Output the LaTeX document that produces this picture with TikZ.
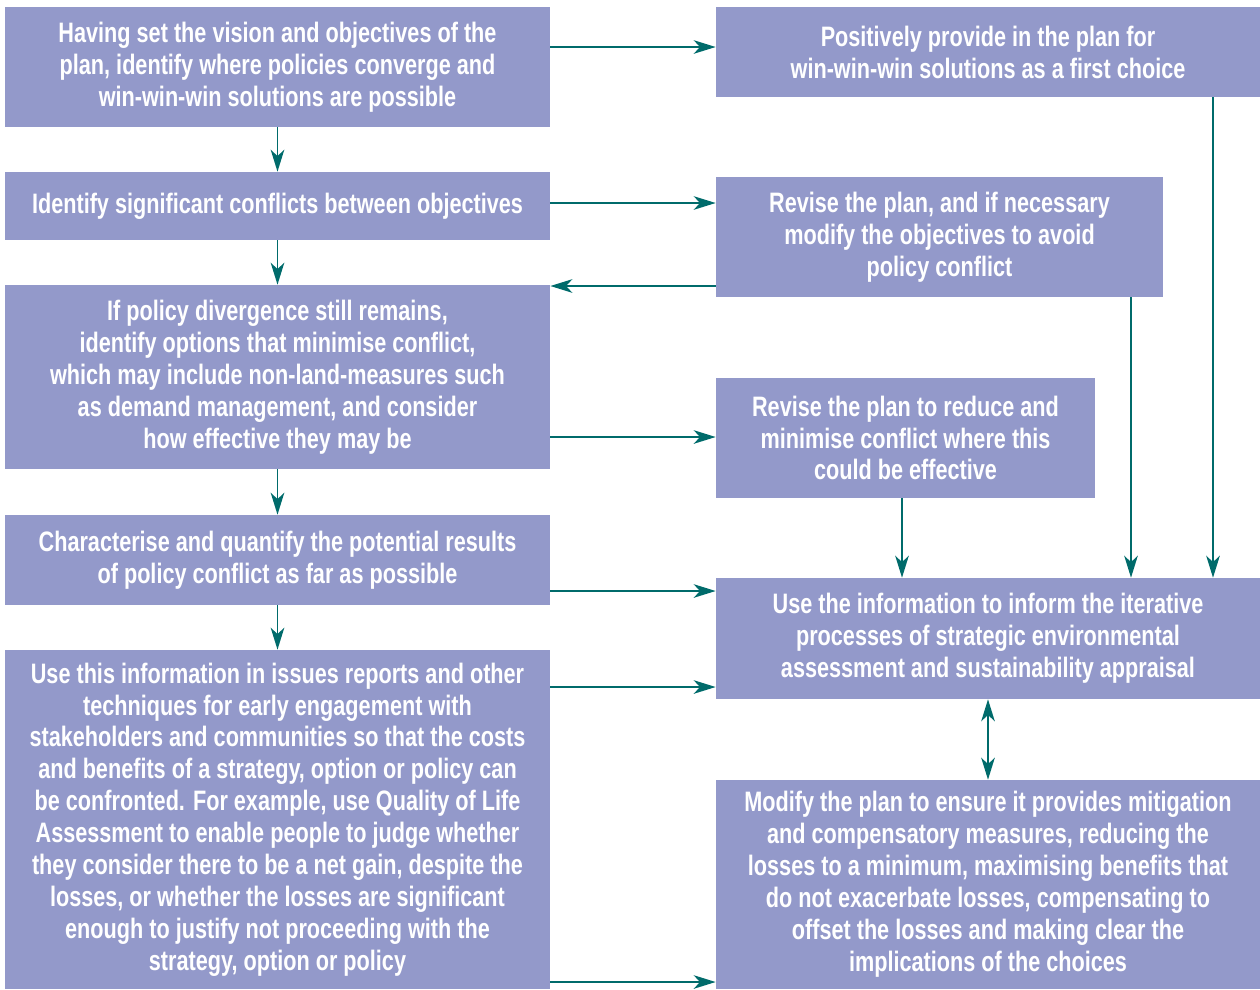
\documentclass[tikz,border=0pt]{standalone}
\usepackage{fontspec}
\setmainfont{Liberation Sans}[FakeStretch=0.77]
\usepackage{tikz}
\usetikzlibrary{arrows.meta}
\definecolor{lavande}{RGB}{147, 153, 202}
\definecolor{sarcelle}{RGB}{0, 107, 107}

\tikzset{
  etape/.style={rectangle, fill=lavande, text=white, align=center, inner sep=0pt,
    font=\bfseries\fontsize{20pt}{22.7pt}\selectfont},
  flux/.style={draw=sarcelle, line width=1.4pt,
    -{Stealth[length=5.5mm, width=3.4mm, inset=1.6mm]}},
  fluxdouble/.style={flux, {Stealth[length=5.5mm, width=3.4mm, inset=1.6mm]}-{Stealth[length=5.5mm, width=3.4mm, inset=1.6mm]}}
}

\begin{document}
\begin{tikzpicture}[x=0.025cm, y=-0.025cm]
  \useasboundingbox (0,0) rectangle (1260,989);

  % colonne de gauche
  \node[etape, minimum width=13.625cm, minimum height=3cm] (L1) at (277.5,67)
    {Having set the vision and objectives of the\\
     plan, identify where policies converge and\\
     win-win-win solutions are possible};
  \node[etape, minimum width=13.625cm, minimum height=1.7cm] (L2) at (277.5,206)
    {Identify significant conflicts between objectives};
  \node[etape, minimum width=13.625cm, minimum height=4.6cm] (L3) at (277.5,377)
    {If policy divergence still remains,\\
     identify options that minimise conflict,\\
     which may include non-land-measures such\\
     as demand management, and consider\\
     how effective they may be};
  \node[etape, minimum width=13.625cm, minimum height=2.25cm] (L4) at (277.5,560)
    {Characterise and quantify the potential results\\
     of policy conflict as far as possible};
  \node[etape, minimum width=13.625cm, minimum height=8.475cm] (L5) at (277.5,819.5)
    {Use this information in issues reports and other\\
     techniques for early engagement with\\
     stakeholders and communities so that the costs\\
     and benefits of a strategy, option or policy can\\
     be confronted. For example, use Quality of Life\\
     Assessment to enable people to judge whether\\
     they consider there to be a net gain, despite the\\
     losses, or whether the losses are significant\\
     enough to justify not proceeding with the\\
     strategy, option or policy};

  % colonne de droite
  \node[etape, minimum width=13.6cm, minimum height=2.25cm] (R1) at (988,52)
    {Positively provide in the plan for\\
     win-win-win solutions as a first choice};
  \node[etape, minimum width=11.175cm, minimum height=3cm] (R2) at (939.5,237)
    {Revise the plan, and if necessary\\
     modify the objectives to avoid\\
     policy conflict};
  \node[etape, minimum width=9.475cm, minimum height=3cm] (R3) at (905.5,438)
    {Revise the plan to reduce and\\
     minimise conflict where this\\
     could be effective};
  \node[etape, minimum width=13.6cm, minimum height=3.025cm] (R4) at (988,638.5)
    {Use the information to inform the iterative\\
     processes of strategic environmental\\
     assessment and sustainability appraisal};
  \node[etape, minimum width=13.6cm, minimum height=5.225cm] (R5) at (988,884.5)
    {Modify the plan to ensure it provides mitigation\\
     and compensatory measures, reducing the\\
     losses to a minimum, maximising benefits that\\
     do not exacerbate losses, compensating to\\
     offset the losses and making clear the\\
     implications of the choices};

  % fleches
  \draw[flux] (L1.south) -- (L2.north);
  \draw[flux] (L2.south) -- (L3.north);
  \draw[flux] (L3.south) -- (L4.north);
  \draw[flux] (L4.south) -- (L5.north);
  \draw[flux] (L1.east |- 0,47) -- (R1.west |- 0,47);
  \draw[flux] (L2.east |- 0,203) -- (R2.west |- 0,203);
  \draw[flux] (R2.west |- 0,286) -- (L3.east |- 0,286);
  \draw[flux] (L3.east |- 0,437) -- (R3.west |- 0,437);
  \draw[flux] (L4.east |- 0,591) -- (R4.west |- 0,591);
  \draw[flux] (L5.east |- 0,687) -- (R4.west |- 0,687);
  \draw[flux] (L5.east |- 0,982) -- (R5.west |- 0,982);
  \draw[flux] (R3.south -| 902,0) -- (R4.north -| 902,0);
  \draw[flux] (R2.south -| 1131,0) -- (R4.north -| 1131,0);
  \draw[flux] (R1.south -| 1213,0) -- (R4.north -| 1213,0);
  \draw[fluxdouble] (R4.south) -- (R5.north);
\end{tikzpicture}
\end{document}
